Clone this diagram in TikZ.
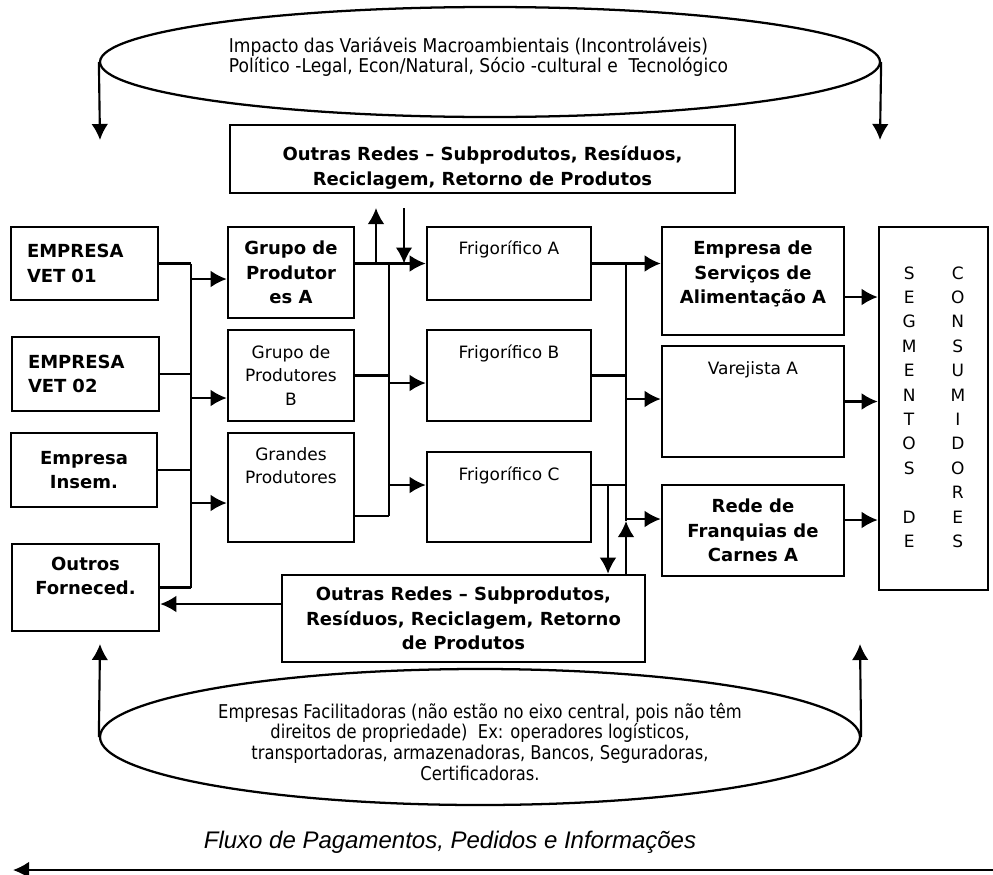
\documentclass[tikz,border=0pt]{standalone}
\usepackage{fontspec}
\setmainfont{DejaVu Sans}
\newfontfamily\ovalfont[FakeStretch=0.86]{DejaVu Sans}
\newfontfamily\ambfont[FakeStretch=0.9]{DejaVu Sans}
\newfontfamily\fluxofont{Liberation Sans}
\usetikzlibrary{arrows.meta,shapes.geometric}

\begin{document}
\begin{tikzpicture}[x=0.75pt, y=-0.75pt, line width=1.6pt,
        >={Latex[length=12pt,width=12.5pt]},
        box/.style={draw, line width=1.9pt, inner sep=0pt, align=center, font=\fontsize{12.75pt}{17.6pt}\selectfont},
        bbox/.style={box, font=\fontsize{13.5pt}{18.4pt}\selectfont\bfseries},
        wh/.style 2 args={minimum width=#1*0.75pt, minimum height=#2*0.75pt},
        oval/.style={draw, ellipse, inner sep=0pt, line width=1.7pt, font=\ovalfont\fontsize{14.25pt}{15.6pt}\selectfont}]
        \useasboundingbox (0,0) rectangle (993,875);
        \node[oval, wh={780}{110}, align=left, font=\ambfont\fontsize{14.25pt}{15.4pt}\selectfont] (amb) at (490,62) {Impacto das Variáveis Macroambientais (Incontroláveis)\\Político -Legal, Econ/Natural, Sócio -cultural e~ Tecnológico\rule{17.25pt}{0pt}\\[-4.9pt]~};
        \node[bbox, wh={505}{68}] (redes1) at (482.5,159) {~\\[5.4pt]Outras Redes -- Subprodutos, Resíduos,\\Reciclagem, Retorno de Produtos};
        \node[bbox, wh={147}{73}, text width=86.25pt, align=left] (vet1) at (84.5,263.5) {EMPRESA\\VET 01};
        \node[bbox, wh={147}{74}, text width=86.25pt, align=left] (vet2) at (85.5,374) {EMPRESA\\VET 02};
        \node[bbox, wh={146}{74}] (insem) at (84,470) {Empresa\\Insem.};
        \node[bbox, wh={147}{87}] (outros) at (85.5,587.5) {Outros\\Forneced.\\[-1pt]~};
        \node[bbox, wh={126}{91}] (grupoA) at (291,272.5) {Grupo de\\Produtor\\es A};
        \node[box, wh={126}{91}] (grupoB) at (291,375.5) {Grupo de\\Produtores\\B};
        \node[box, wh={126}{109}] (grandes) at (291,487.5) {Grandes\\Produtores\\[15.4pt]~};
        \node[box, wh={164}{73}] (frigA) at (509,263.5) {Frigorífico A\\[6pt]~};
        \node[box, wh={164}{91}] (frigB) at (509,375.5) {Frigorífico B\\[18pt]~};
        \node[box, wh={164}{90}] (frigC) at (509,497) {Frigorífico C\\[18pt]~};
        \node[bbox, wh={182}{108}] (servA) at (753,281) {Empresa de\\Serviços de\\Alimentação A\\[-5.3pt]~};
        \node[box, wh={182}{111}] (varA) at (753,401.5) {Varejista A\\[33pt]~};
        \node[bbox, wh={182}{91}] (redeA) at (753,530.5) {Rede de\\Franquias de\\Carnes A};
        \node[box, wh={109}{363}] (segm) at (933.5,408.5) {\def\arraystretch{1.04}\begin{tabular}{@{}c@{\hspace{25.5pt}}c@{}}
            S & C\\ E & O\\ G & N\\ M & S\\ E & U\\ N & M\\ T & I\\ O & D\\ S & O\\ & R\\ D & E\\ E & S
        \end{tabular}};
        \node[bbox, wh={363}{87}] (redes2) at (463.5,618.5) {Outras Redes -- Subprodutos,\\Resíduos, Reciclagem, Retorno\\de Produtos};
        \node[oval, wh={760}{136}, align=center] (facil) at (480,737) {~\\[2.9pt]Empresas Facilitadoras (não estão no eixo central, pois não têm\\direitos de propriedade)~ Ex: operadores logísticos,\\transportadoras, armazenadoras, Bancos, Seguradoras,\\Certificadoras.};
        \node[font=\fluxofont\itshape\fontsize{18pt}{20pt}\selectfont] (fluxo) at (450,842) {Fluxo de Pagamentos, Pedidos e Informações};
        \coordinate (bus1) at (191,0);
        \coordinate (bus2) at (389,0);
        \coordinate (bus3) at (626,0);
        \coordinate (dc) at (608,0);
        \coordinate (j1) at (191,279);
        \coordinate (j2) at (191,398);
        \coordinate (j3) at (191,503);
        \coordinate (j4) at (389,383);
        \coordinate (j5) at (389,485);
        \coordinate (j6) at (626,399);
        \coordinate (j7) at (626,519);
        \coordinate (j8) at (389,516);
        \coordinate (s1) at (0,297);
        \coordinate (s3) at (0,520);
        \coordinate (r2) at (0,604);
        \coordinate (sub) at (376,208);
        \coordinate (desce) at (404,208);
        \coordinate (sobe) at (626,521);
        \coordinate (ambL) at (100,140);
        \coordinate (ambR) at (880,140);
        \coordinate (facL) at (100,644);
        \coordinate (facR) at (860,644);
        \coordinate (fluxoA) at (993,870);
        \coordinate (fluxoB) at (13,870);
        \draw[->] (amb.west) -- (ambL);
        \draw[->] (amb.east) -- (ambR);
        \draw (vet1.east) -- (vet1.east -| bus1);
        \draw (vet2.east) -- (vet2.east -| bus1);
        \draw (insem.east) -- (insem.east -| bus1);
        \draw (outros.east) -- (outros.east -| bus1);
        \draw (vet1.east -| bus1) -- (outros.east -| bus1);
        \draw[->] (j1) -- (j1 -| grupoA.west);
        \draw[->] (j2) -- (j2 -| grupoB.west);
        \draw[->] (j3) -- (j3 -| grandes.west);
        \draw[->] (grupoA.east |- frigA.west) -- (frigA.west);
        \draw[->] (sub |- frigA.west) -- (sub);
        \draw[->] (desce) -- (desce |- frigA.west);
        \draw (grupoB.east) -- (grupoB.east -| bus2);
        \draw (j8 -| grandes.east) -- (j8);
        \draw (bus2 |- frigA.west) -- (j8);
        \draw[->] (j4) -- (j4 -| frigB.west);
        \draw[->] (j5) -- (j5 -| frigC.west);
        \draw[->] (frigA.east) -- (frigA.east -| servA.west);
        \draw (frigB.east) -- (frigB.east -| bus3);
        \draw (j5 -| frigC.east) -- (j5 -| bus3);
        \draw[->] (j5 -| dc) -- (dc |- redes2.north);
        \draw[->] (bus3 |- redes2.north) -- (sobe);
        \draw (sobe) -- (bus3 |- frigA.east);
        \draw[->] (j6) -- (j6 -| varA.west);
        \draw[->] (j7) -- (j7 -| redeA.west);
        \draw[->] (s1 -| servA.east) -- (s1 -| segm.west);
        \draw[->] (varA.east) -- (varA.east -| segm.west);
        \draw[->] (s3 -| redeA.east) -- (s3 -| segm.west);
        \draw[->] (r2 -| redes2.west) -- (r2 -| outros.east);
        \draw[->] (facil.west) -- (facL);
        \draw[->] (facil.east) -- (facR);
        \draw[->] (fluxoA) -- (fluxoB);
    \end{tikzpicture}
\end{document}
